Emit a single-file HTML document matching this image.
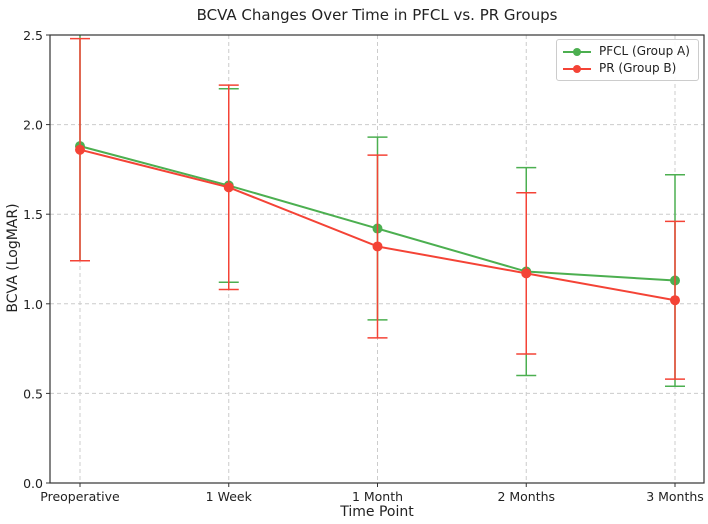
<!DOCTYPE html>
<html><head><meta charset="utf-8"><style>body{margin:0;background:#fff}svg{display:block;font-family:"DejaVu Sans","Liberation Sans",sans-serif}</style></head>
<body>
<svg id="c" width="708" height="524">
<defs><clipPath id="clip"><rect x="50" y="35" width="654" height="448"/></clipPath></defs>
</svg>
<script>
const categories=["Preoperative","1 Week","1 Month","2 Months","3 Months"];
const pfclMean=[1.88,1.66,1.42,1.18,1.13];
const pfclUpper=[2.6,2.20,1.93,1.76,1.72];
const pfclLower=[1.24,1.12,0.91,0.60,0.54];
const prMean=[1.86,1.65,1.32,1.17,1.02];
const prUpper=[2.48,2.22,1.83,1.62,1.46];
const prLower=[1.24,1.08,0.81,0.72,0.58];
const yTicks=[0.0,0.5,1.0,1.5,2.0,2.5];
const NS="http://www.w3.org/2000/svg",svg=document.getElementById('c');
const L=50,T=35,R=704,B=483;
const x=i=>80+i*148.75;
const y=v=>B-(v/2.5)*(B-T);
function mk(t,a,p){const e=document.createElementNS(NS,t);for(const k in a)e.setAttribute(k,a[k]);(p||svg).appendChild(e);return e;}
const grid=mk('g',{});


yTicks.forEach(v=>{
 mk('line',{x1:L,x2:R,y1:y(v),y2:y(v),stroke:'#ccc','stroke-dasharray':'4,3'},grid);
 const t=mk('text',{x:L-7,y:y(v)+5,'text-anchor':'end','font-size':12.5,fill:'#222'});t.textContent=v.toFixed(1);
 
 
 mk('line',{x1:L-4,x2:L,y1:y(v),y2:y(v),stroke:'#333'});
});
categories.forEach((c,i)=>{
 mk('line',{x1:x(i),x2:x(i),y1:T,y2:B,stroke:'#ccc','stroke-dasharray':'4,3'},grid);
 mk('line',{x1:x(i),x2:x(i),y1:B,y2:B+4,stroke:'#333'});
 const t=mk('text',{x:x(i),y:B+18,'text-anchor':'middle','font-size':12.5,fill:'#222'});t.textContent=c;
 
 
});
function series(mean,up,lo,col,name){
 const g=mk('g',{'clip-path':'url(#clip)'});
 
 
 mean.forEach((m,i)=>{
  mk('line',{x1:x(i),x2:x(i),y1:y(up[i]),y2:y(lo[i]),stroke:col,'stroke-width':1.5},g);
  [up[i],lo[i]].forEach(v=>mk('line',{x1:x(i)-10,x2:x(i)+10,y1:y(v),y2:y(v),stroke:col,'stroke-width':1.5},g));
 });
 mk('polyline',{points:mean.map((m,i)=>x(i)+','+y(m)).join(' '),fill:'none',stroke:col,'stroke-width':2},g);
 mean.forEach((m,i)=>{const c=mk('circle',{cx:x(i),cy:y(m),r:5,fill:col},g);
  
  });
}
series(pfclMean,pfclUpper,pfclLower,'#4caf50','pfcl-series');
series(prMean,prUpper,prLower,'#f44336','pr-series');
mk('rect',{x:L,y:T,width:R-L,height:B-T,fill:'none',stroke:'#333','stroke-width':1.2});
</script>
<div style="position:absolute;left:0;top:0;width:708px;height:524px;pointer-events:none;font-family:'DejaVu Sans','Liberation Sans',sans-serif">
 <div style="position:absolute;top:6px;left:50px;width:654px;text-align:center;font-size:15px;color:#222">BCVA Changes Over Time in PFCL vs. PR Groups</div>
 <div style="position:absolute;top:504px;left:50px;width:654px;text-align:center;font-size:14px;color:#222">Time Point</div>
 <div style="position:absolute;left:-52px;top:250px;width:130px;text-align:center;font-size:14px;color:#222;transform:rotate(-90deg)">BCVA (LogMAR)</div>
 <div style="position:absolute;left:556px;top:39px;width:141px;height:40px;border:1px solid #ccc;border-radius:3px;background:rgba(255,255,255,.85);font-size:12px;color:#222">
  <div style="position:absolute;left:6px;top:4px;white-space:nowrap"><span style="display:inline-block;position:relative;width:28px;height:10px;vertical-align:middle;margin-right:8px"><span style="position:absolute;left:0;right:0;top:4px;height:2px;background:#4caf50"></span><span style="position:absolute;left:10px;top:1px;width:8px;height:8px;border-radius:50%;background:#4caf50"></span></span>PFCL (Group A)</div>
  <div style="position:absolute;left:6px;top:21px;white-space:nowrap"><span style="display:inline-block;position:relative;width:28px;height:10px;vertical-align:middle;margin-right:8px"><span style="position:absolute;left:0;right:0;top:4px;height:2px;background:#f44336"></span><span style="position:absolute;left:10px;top:1px;width:8px;height:8px;border-radius:50%;background:#f44336"></span></span>PR (Group B)</div>
 </div>
</div>
</body></html>
